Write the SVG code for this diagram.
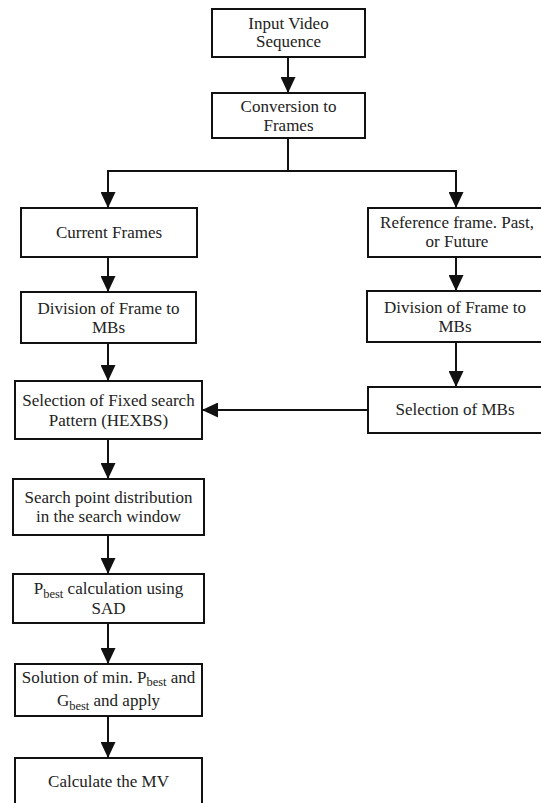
<svg xmlns="http://www.w3.org/2000/svg" width="541" height="803" viewBox="0 0 541 803">
<style>
.box{fill:#fff;stroke:#111;stroke-width:2}
.t{font-size:17px;fill:#222;text-anchor:middle}
.sub{font-size:12.5px}
.c{fill:none;stroke:#111;stroke-width:2}
</style>
<defs>
<marker id="ah" markerUnits="userSpaceOnUse" markerWidth="16" markerHeight="15" refX="16" refY="7.5" orient="auto">
<path d="M0,0 L16,7.5 L0,15 z" fill="#111"/>
</marker>
</defs>
<rect width="541" height="803" fill="#fff"/>
<g id="connectors">
<line class="c" x1="288" y1="57" x2="288" y2="93" marker-end="url(#ah)"/>
<polyline class="c" points="288,138 288,171"/>
<polyline class="c" points="108,208 108,171 456,171 456,208" marker-end="url(#ah)"/>
<line class="c" x1="108" y1="171" x2="108" y2="208" marker-end="url(#ah)"/>
<line class="c" x1="108" y1="257" x2="108" y2="292" marker-end="url(#ah)"/>
<line class="c" x1="108" y1="343" x2="108" y2="381" marker-end="url(#ah)"/>
<line class="c" x1="108" y1="439" x2="108" y2="479" marker-end="url(#ah)"/>
<line class="c" x1="108" y1="535" x2="108" y2="574" marker-end="url(#ah)"/>
<line class="c" x1="108" y1="623" x2="108" y2="664" marker-end="url(#ah)"/>
<line class="c" x1="108" y1="716" x2="108" y2="758" marker-end="url(#ah)"/>
<line class="c" x1="456" y1="257" x2="456" y2="291" marker-end="url(#ah)"/>
<line class="c" x1="456" y1="342" x2="456" y2="387" marker-end="url(#ah)"/>
<line class="c" x1="368" y1="410" x2="202" y2="410" marker-end="url(#ah)"/>
</g>
<g font-family="'Liberation Serif', 'Times New Roman', 'DejaVu Serif', serif">
<g id="input">
<rect class="box" x="212" y="9" width="153" height="48"/>
<text class="t" x="288.5" y="29">Input Video</text>
<text class="t" x="288.5" y="47">Sequence</text>
</g>
<g id="conversion">
<rect class="box" x="212" y="93" width="153" height="45"/>
<text class="t" x="288.5" y="112">Conversion to</text>
<text class="t" x="288.5" y="131">Frames</text>
</g>
<g id="current">
<rect class="box" x="21" y="208" width="176" height="49"/>
<text class="t" x="109" y="238">Current Frames</text>
</g>
<g id="reference">
<rect class="box" x="368" y="208" width="180" height="49"/>
<text class="t" x="457" y="228">Reference frame. Past,</text>
<text class="t" x="457" y="247">or Future</text>
</g>
<g id="divleft">
<rect class="box" x="21" y="292" width="175" height="51"/>
<text class="t" x="108.5" y="314">Division of Frame to</text>
<text class="t" x="108.5" y="333">MBs</text>
</g>
<g id="divright">
<rect class="box" x="367" y="291" width="180" height="51"/>
<text class="t" x="455" y="313">Division of Frame to</text>
<text class="t" x="455" y="332">MBs</text>
</g>
<g id="hexbs">
<rect class="box" x="15" y="381" width="187" height="58"/>
<text class="t" x="108.5" y="406">Selection of Fixed search</text>
<text class="t" x="108.5" y="426">Pattern (HEXBS)</text>
</g>
<g id="selmbs">
<rect class="box" x="368" y="387" width="180" height="46"/>
<text class="t" x="455" y="415">Selection of MBs</text>
</g>
<g id="search">
<rect class="box" x="13" y="479" width="191" height="56"/>
<text class="t" x="108.5" y="503">Search point distribution</text>
<text class="t" x="108.5" y="522">in the search window</text>
</g>
<g id="pbest">
<rect class="box" x="13" y="574" width="191" height="49"/>
<text class="t" x="108.5" y="594">P<tspan class="sub" dy="4">best</tspan><tspan dy="-4"> calculation using</tspan></text>
<text class="t" x="108.5" y="614">SAD</text>
</g>
<g id="solution">
<rect class="box" x="15" y="664" width="187" height="52"/>
<text class="t" x="108.5" y="683">Solution of min. P<tspan class="sub" dy="3">best</tspan><tspan dy="-3"> and</tspan></text>
<text class="t" x="108.5" y="706">G<tspan class="sub" dy="4">best</tspan><tspan dy="-4"> and apply</tspan></text>
</g>
<g id="calculate">
<rect class="box" x="15" y="758" width="187" height="60"/>
<text class="t" x="108.5" y="787">Calculate the MV</text>
</g>
</g>
</svg>
